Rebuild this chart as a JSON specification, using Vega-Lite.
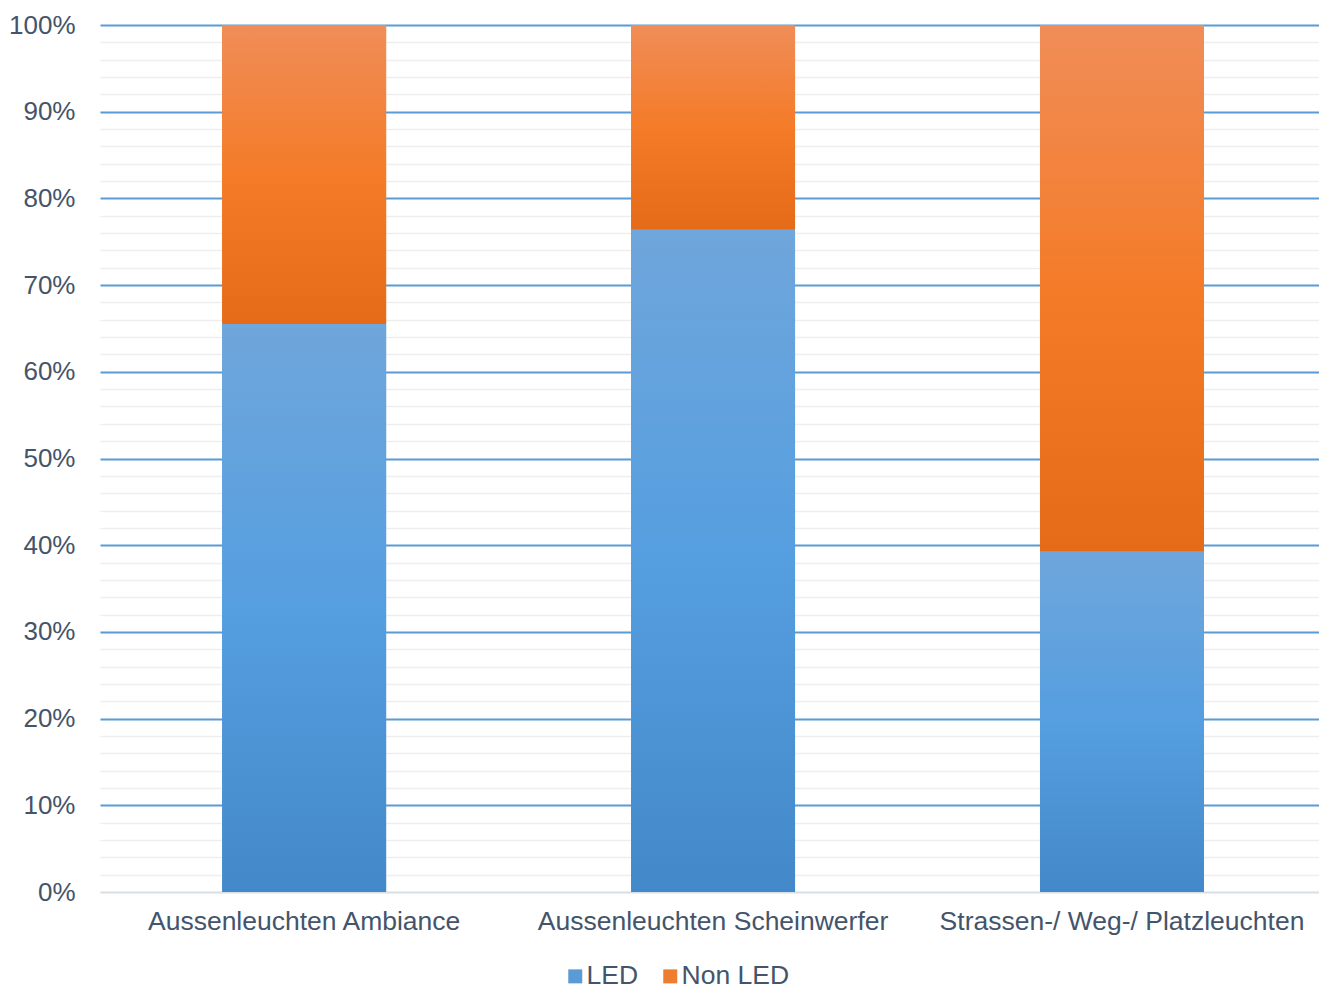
{
  "$schema": "https://vega.github.io/schema/vega-lite/v6.json",
  "width": 1219,
  "height": 867,
  "autosize": {"type": "none"},
  "padding": {"left": 100, "top": 25, "right": 0, "bottom": 96},
  "background": "white",
  "config": {"view": {"stroke": null}, "font": "Liberation Sans"},
  "data": {
    "values": [
      {"category": "Aussenleuchten Ambiance", "series": "LED", "value": 0.655},
      {"category": "Aussenleuchten Ambiance", "series": "Non LED", "value": 0.345},
      {"category": "Aussenleuchten Scheinwerfer", "series": "LED", "value": 0.764},
      {"category": "Aussenleuchten Scheinwerfer", "series": "Non LED", "value": 0.236},
      {"category": "Strassen-/ Weg-/ Platzleuchten", "series": "LED", "value": 0.393},
      {"category": "Strassen-/ Weg-/ Platzleuchten", "series": "Non LED", "value": 0.607}
    ]
  },
  "transform": [
    {"stack": "value", "groupby": ["category"], "sort": [{"field": "series", "order": "ascending"}], "as": ["y0", "y1"]}
  ],
  "encoding": {
    "x": {
      "field": "category", "type": "nominal", "sort": null,
      "scale": {"paddingInner": 0.599, "paddingOuter": 0.29, "align": 0.515},
      "axis": {"title": null, "labelAngle": 0, "labelFontSize": 26.5, "labelColor": "#44546a", "labelLimit": 0, "ticks": false, "domain": false, "labelPadding": 16, "grid": false}
    }
  },
  "layer": [
    {
      "mark": {"type": "bar"},
      "encoding": {
        "y": {
          "field": "y1", "type": "quantitative", "scale": {"domain": [0, 1]},
          "axis": {"orient": "right", "title": null, "labels": false, "ticks": false, "domain": false, "grid": true, "gridColor": "#eeeeee", "gridWidth": 1.5,
            "values": [0.02,0.04,0.06,0.08,0.12,0.14,0.16,0.18,0.22,0.24,0.26,0.28,0.32,0.34,0.36,0.38,0.42,0.44,0.46,0.48,0.52,0.54,0.56,0.58,0.62,0.64,0.66,0.68,0.72,0.74,0.76,0.78,0.82,0.84,0.86,0.88,0.92,0.94,0.96,0.98]}
        },
        "y2": {"field": "y0"},
        "color": {
          "field": "series", "type": "nominal",
          "scale": {"domain": ["LED", "Non LED"], "range": ["#5b9bd5", "#ed7d31"]},
          "legend": {"orient": "none", "legendX": 462, "legendY": 938, "direction": "horizontal", "title": null, "symbolType": "square", "symbolSize": 196, "symbolStrokeWidth": 0, "labelFontSize": 26.5, "labelColor": "#44546a", "labelOffset": -2, "columnPadding": 18}
        }
      }
    },
    {
      "transform": [{"filter": "datum.series === 'LED'"}],
      "mark": {"type": "bar", "fill": {"gradient": "linear", "x1": 0, "y1": 0, "x2": 0, "y2": 1, "stops": [{"offset": 0, "color": "#6fa6db"}, {"offset": 0.5, "color": "#559ee0"}, {"offset": 1, "color": "#4389c9"}]}},
      "encoding": {
        "y": {
          "field": "y1", "type": "quantitative",
          "axis": {"orient": "left", "title": null, "format": ".0%", "values": [0,0.1,0.2,0.3,0.4,0.5,0.6,0.7,0.8,0.9,1], "labelFontSize": 26, "labelColor": "#44546a", "ticks": false, "domain": false, "labelPadding": 25, "grid": true, "gridWidth": 2,
            "gridColor": {"condition": {"test": "datum.value === 0", "value": "#d9dde4"}, "value": "#5b9bd5"}}
        },
        "y2": {"field": "y0"}
      }
    },
    {
      "transform": [{"filter": "datum.series === 'Non LED'"}],
      "mark": {"type": "bar", "fill": {"gradient": "linear", "x1": 0, "y1": 0, "x2": 0, "y2": 1, "stops": [{"offset": 0, "color": "#f08d58"}, {"offset": 0.5, "color": "#f47b28"}, {"offset": 1, "color": "#e56b19"}]}},
      "encoding": {
        "y": {"field": "y1", "type": "quantitative", "axis": null},
        "y2": {"field": "y0"}
      }
    }
  ],
  "resolve": {"axis": {"y": "independent"}}
}
